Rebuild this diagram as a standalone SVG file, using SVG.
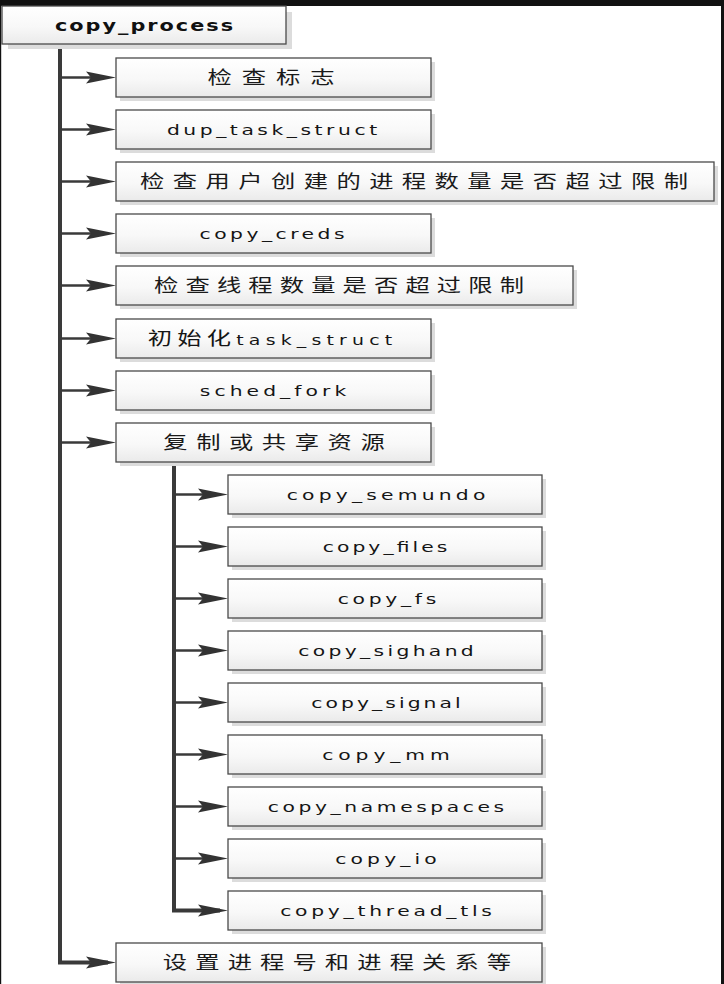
<svg xmlns="http://www.w3.org/2000/svg" width="724" height="984" viewBox="0 0 724 984">
  <defs>
    <linearGradient id="boxFill" x1="0" y1="0" x2="0" y2="1">
      <stop offset="0" stop-color="#ffffff"/>
      <stop offset="0.55" stop-color="#f8f8f8"/>
      <stop offset="1" stop-color="#eaeaea"/>
    </linearGradient>
    <marker id="arrow" markerUnits="userSpaceOnUse" viewBox="0 0 30 14" markerWidth="30" markerHeight="14" refX="22" refY="7" orient="auto">
      <path d="M0,1 L30,7 L0,13 L5,7 Z" fill="#333333"/>
    </marker>
  </defs>
  <style>
    .shadow { fill: #dcdcdc; }
    .box { fill: url(#boxFill); stroke: #4a4a4a; stroke-width: 1.3; }
    .lbl { font-family: "DejaVu Sans", "Noto Sans CJK SC", sans-serif; font-size: 14px; fill: #151515; text-anchor: middle; }
    .cjk { font-family: "Noto Sans CJK SC", "DejaVu Sans", sans-serif; font-size: 18px; fill: #1a1a1a; text-anchor: middle; }
    .title { font-family: "DejaVu Sans", sans-serif; font-size: 16px; font-weight: bold; fill: #111111; text-anchor: middle; }
    .trunk { fill: none; stroke: #3a3a3a; stroke-width: 4; }
    .branch { fill: none; stroke: #3a3a3a; stroke-width: 2.5; marker-end: url(#arrow); }
  </style>

  <rect x="0" y="0" width="724" height="984" fill="#ffffff"/>
  <!-- frame edges -->
  <rect x="0" y="0" width="724" height="6" fill="#111111"/>
  <rect x="721" y="0" width="3" height="984" fill="#111111"/>
  <rect x="0" y="0" width="1.2" height="984" fill="#111111"/>

  <!-- connectors -->
  <g id="connectors">
    <path class="trunk" d="M60,44 V962.5 H108" />
    <path class="branch" d="M60,962.5 H108"/>
    <path class="branch" d="M60,77.5 H108"/>
    <path class="branch" d="M60,129.5 H108"/>
    <path class="branch" d="M60,181.5 H108"/>
    <path class="branch" d="M60,233.5 H108"/>
    <path class="branch" d="M60,285.5 H108"/>
    <path class="branch" d="M60,338.5 H108"/>
    <path class="branch" d="M60,390.5 H108"/>
    <path class="branch" d="M60,442.5 H108"/>
    <path class="trunk" d="M174,462 V910.5 H220"/>
    <path class="branch" d="M174,910.5 H220"/>
    <path class="branch" d="M174,494.5 H220"/>
    <path class="branch" d="M174,546.5 H220"/>
    <path class="branch" d="M174,598.5 H220"/>
    <path class="branch" d="M174,650.5 H220"/>
    <path class="branch" d="M174,702.5 H220"/>
    <path class="branch" d="M174,754.5 H220"/>
    <path class="branch" d="M174,806.5 H220"/>
    <path class="branch" d="M174,858.5 H220"/>
  </g>

  <!-- root -->
  <g id="copy_process">
    <rect class="shadow" x="8" y="12" width="284" height="37"/>
    <rect class="box" x="2" y="6" width="284" height="38"/>
    <text class="title" transform="translate(144,31) scale(1.3,1)" textLength="137" lengthAdjust="spacing">copy_process</text>
  </g>

  <!-- first level steps -->
  <g id="check_flags">
    <rect class="shadow" x="120" y="62" width="315" height="39"/>
    <rect class="box" x="116" y="58" width="315" height="39"/>
    <text class="cjk" transform="translate(271,84) scale(1.35,1)" textLength="94" lengthAdjust="spacing">检查标志</text>
  </g>
  <g id="dup_task_struct">
    <rect class="shadow" x="120" y="114" width="315" height="39"/>
    <rect class="box" x="116" y="110" width="315" height="39"/>
    <text class="lbl" transform="translate(272,135) scale(1.45,1)" textLength="145" lengthAdjust="spacing">dup_task_struct</text>
  </g>
  <g id="check_user_procs">
    <rect class="shadow" x="120" y="166" width="598" height="39"/>
    <rect class="box" x="116" y="162" width="598" height="39"/>
    <text class="cjk" transform="translate(414,188) scale(1.35,1)" textLength="406" lengthAdjust="spacing">检查用户创建的进程数量是否超过限制</text>
  </g>
  <g id="copy_creds">
    <rect class="shadow" x="120" y="218" width="315" height="39"/>
    <rect class="box" x="116" y="214" width="315" height="39"/>
    <text class="lbl" transform="translate(272,239) scale(1.45,1)" textLength="100" lengthAdjust="spacing">copy_creds</text>
  </g>
  <g id="check_threads">
    <rect class="shadow" x="120" y="270" width="457" height="39"/>
    <rect class="box" x="116" y="266" width="457" height="39"/>
    <text class="cjk" transform="translate(339,292) scale(1.35,1)" textLength="274" lengthAdjust="spacing">检查线程数量是否超过限制</text>
  </g>
  <g id="init_task_struct">
    <rect class="shadow" x="120" y="323" width="315" height="39"/>
    <rect class="box" x="116" y="319" width="315" height="39"/>
    <text class="lbl" transform="translate(270,344.5) scale(1.35,1)" textLength="181" lengthAdjust="spacing"><tspan font-family="Noto Sans CJK SC, sans-serif" font-size="18">初始化</tspan>task_struct</text>
  </g>
  <g id="sched_fork">
    <rect class="shadow" x="120" y="375" width="315" height="39"/>
    <rect class="box" x="116" y="371" width="315" height="39"/>
    <text class="lbl" transform="translate(273,396) scale(1.45,1)" textLength="101" lengthAdjust="spacing">sched_fork</text>
  </g>
  <g id="copy_or_share">
    <rect class="shadow" x="120" y="427" width="315" height="39"/>
    <rect class="box" x="116" y="423" width="315" height="39"/>
    <text class="cjk" transform="translate(274,449) scale(1.35,1)" textLength="164" lengthAdjust="spacing">复制或共享资源</text>
  </g>

  <!-- resource copies -->
  <g id="copy_semundo">
    <rect class="shadow" x="232" y="479" width="314" height="39"/>
    <rect class="box" x="228" y="475" width="314" height="39"/>
    <text class="lbl" transform="translate(386,500) scale(1.45,1)" textLength="137" lengthAdjust="spacing">copy_semundo</text>
  </g>
  <g id="copy_files">
    <rect class="shadow" x="232" y="531" width="314" height="39"/>
    <rect class="box" x="228" y="527" width="314" height="39"/>
    <text class="lbl" transform="translate(385,552) scale(1.45,1)" textLength="86" lengthAdjust="spacing">copy_files</text>
  </g>
  <g id="copy_fs">
    <rect class="shadow" x="232" y="583" width="314" height="39"/>
    <rect class="box" x="228" y="579" width="314" height="39"/>
    <text class="lbl" transform="translate(387,604) scale(1.45,1)" textLength="68" lengthAdjust="spacing">copy_fs</text>
  </g>
  <g id="copy_sighand">
    <rect class="shadow" x="232" y="635" width="314" height="39"/>
    <rect class="box" x="228" y="631" width="314" height="39"/>
    <text class="lbl" transform="translate(386,656) scale(1.45,1)" textLength="121" lengthAdjust="spacing">copy_sighand</text>
  </g>
  <g id="copy_signal">
    <rect class="shadow" x="232" y="687" width="314" height="39"/>
    <rect class="box" x="228" y="683" width="314" height="39"/>
    <text class="lbl" transform="translate(386,708) scale(1.45,1)" textLength="103" lengthAdjust="spacing">copy_signal</text>
  </g>
  <g id="copy_mm">
    <rect class="shadow" x="232" y="739" width="314" height="39"/>
    <rect class="box" x="228" y="735" width="314" height="39"/>
    <text class="lbl" transform="translate(386,760) scale(1.45,1)" textLength="88" lengthAdjust="spacing">copy_mm</text>
  </g>
  <g id="copy_namespaces">
    <rect class="shadow" x="232" y="791" width="314" height="39"/>
    <rect class="box" x="228" y="787" width="314" height="39"/>
    <text class="lbl" transform="translate(386,812) scale(1.45,1)" textLength="163" lengthAdjust="spacing">copy_namespaces</text>
  </g>
  <g id="copy_io">
    <rect class="shadow" x="232" y="843" width="314" height="39"/>
    <rect class="box" x="228" y="839" width="314" height="39"/>
    <text class="lbl" transform="translate(386,864) scale(1.45,1)" textLength="70" lengthAdjust="spacing">copy_io</text>
  </g>
  <g id="copy_thread_tls">
    <rect class="shadow" x="232" y="895" width="314" height="39"/>
    <rect class="box" x="228" y="891" width="314" height="39"/>
    <text class="lbl" transform="translate(386,916) scale(1.45,1)" textLength="146" lengthAdjust="spacing">copy_thread_tls</text>
  </g>

  <!-- final step -->
  <g id="set_pid_relations">
    <rect class="shadow" x="120" y="947" width="426" height="39"/>
    <rect class="box" x="116" y="943" width="426" height="39"/>
    <text class="cjk" transform="translate(337,969) scale(1.35,1)" textLength="258" lengthAdjust="spacing">设置进程号和进程关系等</text>
  </g>
</svg>
